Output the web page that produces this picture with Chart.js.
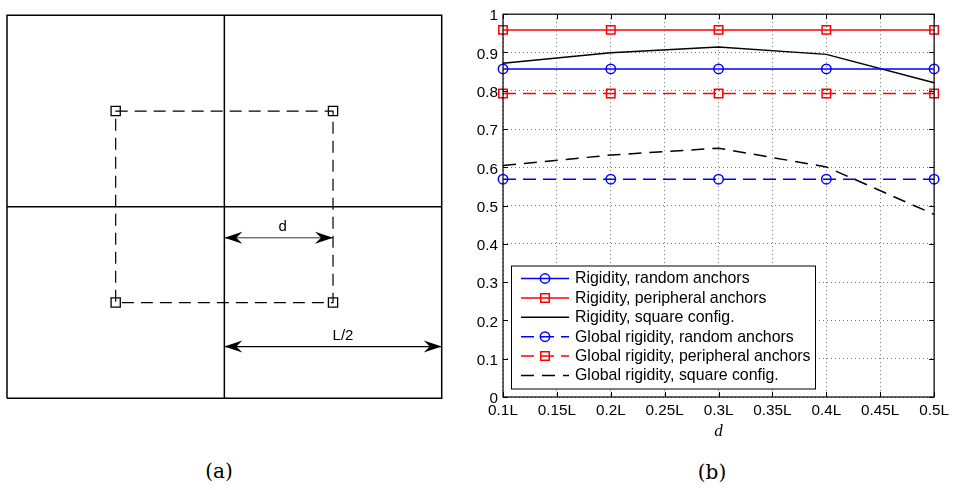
<!DOCTYPE html>
<html>
<head>
<meta charset="utf-8">
<script src="https://cdn.jsdelivr.net/npm/chart.js@4.4.1/dist/chart.umd.min.js"></script>
<style>
  html, body { margin:0; padding:0; background:#fff; width:954px; height:490px; overflow:hidden; }
  #wa { position:absolute; left:0; top:0; width:460px; height:440px; }
  #wb { position:absolute; left:460px; top:0; width:494px; height:442px; }
  .cap { position:absolute; width:80px; text-align:center; font-family:"DejaVu Serif","Liberation Serif",serif;
         font-size:20px; line-height:24px; color:#000; }
</style>
</head>
<body>
<div id="wa"><canvas id="ca" width="460" height="440"></canvas></div>
<div id="wb"><canvas id="cb" width="494" height="442"></canvas></div>
<div class="cap" style="left:179px; top:459px;">(a)</div>
<div class="cap" style="left:672px; top:460px;">(b)</div>
<script>
// ---------------- Panel (b) data ----------------
const dValues        = [0.1, 0.2, 0.3, 0.4, 0.5];
const rigRandom      = [0.857, 0.857, 0.857, 0.857, 0.857];
const rigPeripheral  = [0.959, 0.959, 0.959, 0.959, 0.959];
const rigSquare      = [0.872, 0.899, 0.914, 0.895, 0.821];
const glRandom       = [0.569, 0.569, 0.569, 0.569, 0.569];
const glPeripheral   = [0.793, 0.793, 0.793, 0.793, 0.793];
const glSquare       = [0.605, 0.632, 0.650, 0.601, 0.477];
const seriesLabels   = ['Rigidity, random anchors', 'Rigidity, peripheral anchors', 'Rigidity, square config.',
                        'Global rigidity, random anchors', 'Global rigidity, peripheral anchors', 'Global rigidity, square config.'];
const xTickValues    = [0.1, 0.15, 0.2, 0.25, 0.3, 0.35, 0.4, 0.45, 0.5];
const xTickLabels    = ['0.1L', '0.15L', '0.2L', '0.25L', '0.3L', '0.35L', '0.4L', '0.45L', '0.5L'];
const yTickValues    = [0, 0.1, 0.2, 0.3, 0.4, 0.5, 0.6, 0.7, 0.8, 0.9, 1];
const yTickLabels    = ['0', '0.1', '0.2', '0.3', '0.4', '0.5', '0.6', '0.7', '0.8', '0.9', '1'];
const xAxisTitle     = 'd';

// ---------------- Panel (a) diagram geometry (units of L) ----------------
const fieldHalf      = 0.5;     // region spans -L/2 .. L/2
const anchorOffset   = 0.25;    // d
const dArrowY        = -0.081;
const halfArrowY     = -0.365;
const dLabel         = 'd';
const halfLabel      = 'L/2';

const SANS = '"Liberation Sans", Arial, Helvetica, sans-serif';

function toXY(xs, ys) { return xs.map((x, i) => ({ x: x, y: ys[i] })); }

// ---------- Chart (b) ----------
const styles = [
  { c: '#0000ff', dash: [],      ps: 'circle', r: 4.7 },
  { c: '#ff0000', dash: [],      ps: 'rect',   r: 6 },
  { c: '#000000', dash: [],      ps: false,    r: 0 },
  { c: '#0000ff', dash: [13, 7], ps: 'circle', r: 4.7 },
  { c: '#ff0000', dash: [13, 7], ps: 'rect',   r: 6 },
  { c: '#000000', dash: [13, 8], ps: false,    r: 0 }
];
const seriesValues = [rigRandom, rigPeripheral, rigSquare, glRandom, glPeripheral, glSquare];

const datasetsB = seriesValues.map((vals, i) => ({
  label: seriesLabels[i],
  data: toXY(dValues, vals),
  showLine: true,
  borderColor: styles[i].c,
  backgroundColor: 'rgba(0,0,0,0)',
  borderWidth: 1.5,
  borderDash: styles[i].dash,
  pointStyle: styles[i].ps || 'circle',
  pointRadius: styles[i].r,
  pointBorderWidth: 1.5,
  pointBorderColor: styles[i].c,
  pointBackgroundColor: 'rgba(0,0,0,0)',
  tension: 0,
  clip: false
}));

const frameAndLegend = {
  id: 'frameAndLegend',
  afterDatasetsDraw(chart) {
    const { ctx, chartArea: a, scales } = chart;
    ctx.save();
    // inside tick marks
    ctx.strokeStyle = '#000'; ctx.lineWidth = 1; ctx.setLineDash([]);
    const tl = 5;
    ctx.beginPath();
    xTickValues.forEach(v => {
      const px = Math.round(scales.x.getPixelForValue(v)) + 0.5;
      ctx.moveTo(px, a.bottom); ctx.lineTo(px, a.bottom - tl);
      ctx.moveTo(px, a.top); ctx.lineTo(px, a.top + tl);
    });
    yTickValues.forEach(v => {
      const py = Math.round(scales.y.getPixelForValue(v)) + 0.5;
      ctx.moveTo(a.left, py); ctx.lineTo(a.left + tl, py);
      ctx.moveTo(a.right, py); ctx.lineTo(a.right - tl, py);
    });
    ctx.stroke();
    ctx.lineWidth = 1.2;
    ctx.strokeRect(a.left, a.top, a.right - a.left, a.bottom - a.top);

    // legend box inside chart area (bottom-left), items from the datasets
    const bx = a.left + 8, bw = 304, bh = 123;
    const by = a.bottom - 8.5 - bh;
    ctx.fillStyle = '#fff';
    ctx.fillRect(bx, by, bw, bh);
    ctx.lineWidth = 1; ctx.strokeStyle = '#000';
    ctx.strokeRect(bx + 0.5, by + 0.5, bw, bh);
    const rowH = 19.4;
    ctx.font = '15.9px ' + SANS;
    ctx.textBaseline = 'middle';
    ctx.textAlign = 'left';
    chart.data.datasets.forEach((ds, i) => {
      const cy = by + 13 + i * rowH;
      const x1 = bx + 10, x2 = bx + 58, cx = (x1 + x2) / 2;
      ctx.strokeStyle = ds.borderColor; ctx.lineWidth = ds.borderWidth;
      ctx.setLineDash(ds.borderDash || []);
      ctx.beginPath(); ctx.moveTo(x1, cy); ctx.lineTo(x2, cy); ctx.stroke();
      ctx.setLineDash([]);
      if (ds.pointRadius > 0) {
        ctx.strokeStyle = ds.pointBorderColor; ctx.fillStyle = 'rgba(0,0,0,0)'; ctx.lineWidth = ds.pointBorderWidth;
        Chart.helpers.drawPoint(ctx, { pointStyle: ds.pointStyle, rotation: 0, borderWidth: ds.pointBorderWidth, radius: ds.pointRadius }, cx, cy);
      }
      ctx.fillStyle = '#000';
      ctx.fillText(ds.label, bx + 64, cy + 0.5);
    });
    ctx.restore();
  }
};

new Chart(document.getElementById('cb'), {
  type: 'scatter',
  data: { datasets: datasetsB },
  options: {
    responsive: false,
    maintainAspectRatio: false,
    animation: false,
    events: [],
    layout: { padding: { left: 3, right: 17, top: 10, bottom: 0 }, autoPadding: false },
    plugins: { legend: { display: false }, tooltip: { enabled: false } },
    scales: {
      x: {
        type: 'linear', min: 0.1, max: 0.5,
        afterBuildTicks: s => { s.ticks = xTickValues.map(v => ({ value: v })); },
        afterFit: s => { s.height = 45; },
        ticks: { callback: (v, i) => xTickLabels[i], color: '#000', font: { family: SANS, size: 15.3 }, padding: 5, maxRotation: 0, autoSkip: false },
        grid: { color: 'rgba(0,0,0,0.55)', lineWidth: 1, drawTicks: false },
        border: { display: false, dash: [1, 3] },
        title: { display: true, text: xAxisTitle, color: '#000', font: { family: '"Liberation Serif","DejaVu Serif",serif', size: 17, style: 'italic' }, padding: { top: 0, bottom: 0 } }
      },
      y: {
        type: 'linear', min: 0, max: 1,
        afterBuildTicks: s => { s.ticks = yTickValues.map(v => ({ value: v })); },
        afterFit: s => { s.width = 40; },
        ticks: { callback: (v, i) => yTickLabels[i], color: '#000', font: { family: SANS, size: 15.3 }, padding: 5, autoSkip: false, labelOffset: 2 },
        grid: { color: 'rgba(0,0,0,0.55)', lineWidth: 1, drawTicks: false },
        border: { display: false, dash: [1, 3] }
      }
    }
  },
  plugins: [frameAndLegend]
});

// ---------- Chart (a): diagram ----------
const H = fieldHalf, D = anchorOffset;
const datasetsA = [
  { data: [{x:-H,y:-H},{x:H,y:-H},{x:H,y:H},{x:-H,y:H},{x:-H,y:-H}], borderWidth: 1.5, pointRadius: 0 },
  { data: [{x:0,y:-H},{x:0,y:H}], borderWidth: 1.5, pointRadius: 0 },
  { data: [{x:-H,y:0},{x:H,y:0}], borderWidth: 1.5, pointRadius: 0 },
  { data: [{x:-D,y:D},{x:D,y:D},{x:D,y:-D},{x:-D,y:-D},{x:-D,y:D}], borderWidth: 1.2, borderDash: [12, 7],
    pointStyle: 'rect', pointRadius: [6.5, 6.5, 6.5, 6.5, 0], pointBorderWidth: 1.3, pointBorderColor: '#000', pointBackgroundColor: 'rgba(0,0,0,0)' },
  { data: [{x:0,y:dArrowY},{x:D,y:dArrowY}], borderWidth: 1, borderColor: '#333', pointRadius: 0, arrow: true, arrowLabel: dLabel },
  { data: [{x:0,y:halfArrowY},{x:H,y:halfArrowY}], borderWidth: 1.2, pointRadius: 0, arrow: true, arrowLabel: halfLabel }
].map(ds => Object.assign({ showLine: true, borderColor: '#000', backgroundColor: 'rgba(0,0,0,0)', tension: 0, clip: false }, ds));

const arrowPlugin = {
  id: 'arrows',
  afterDatasetsDraw(chart) {
    const ctx = chart.ctx;
    ctx.save();
    chart.data.datasets.forEach((ds, i) => {
      if (!ds.arrow) return;
      const pts = chart.getDatasetMeta(i).data;
      const p0 = pts[0], p1 = pts[pts.length - 1];
      const head = (tx, ty, dir) => {
        ctx.beginPath();
        ctx.moveTo(tx, ty);
        ctx.lineTo(tx - dir * 18, ty - 6);
        ctx.lineTo(tx - dir * 12, ty);
        ctx.lineTo(tx - dir * 18, ty + 6);
        ctx.closePath();
        ctx.fillStyle = '#000';
        ctx.fill();
      };
      head(p0.x, p0.y, -1);
      head(p1.x, p1.y, 1);
      ctx.font = '15px ' + SANS;
      ctx.fillStyle = '#000';
      ctx.textAlign = 'center';
      ctx.textBaseline = 'alphabetic';
      const mx = (p0.x + p1.x) / 2 + (ds.arrowLabel === dLabel ? 4 : 10);
      ctx.fillText(ds.arrowLabel, mx, p0.y - 7);
    });
    ctx.restore();
  }
};

new Chart(document.getElementById('ca'), {
  type: 'scatter',
  data: { datasets: datasetsA },
  options: {
    responsive: false,
    maintainAspectRatio: false,
    animation: false,
    events: [],
    layout: { padding: { left: 7, right: 18.3, top: 15.3, bottom: 41.7 }, autoPadding: false },
    plugins: { legend: { display: false }, tooltip: { enabled: false } },
    scales: {
      x: { type: 'linear', min: -H, max: H, display: false },
      y: { type: 'linear', min: -H, max: H, display: false }
    }
  },
  plugins: [arrowPlugin]
});
</script>
</body>
</html>
